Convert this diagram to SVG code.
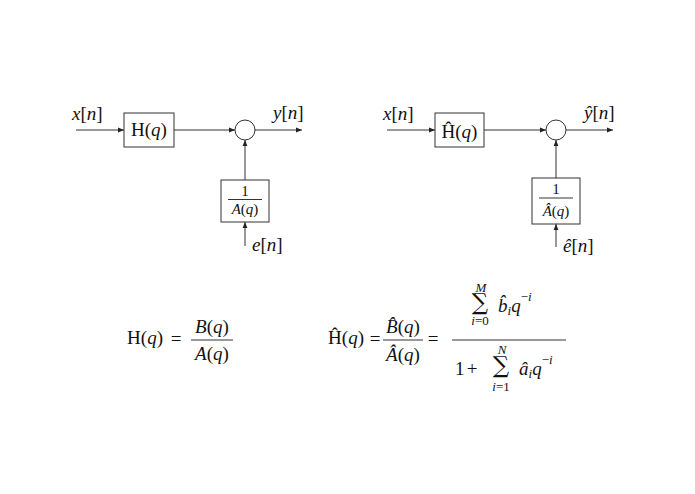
<svg xmlns="http://www.w3.org/2000/svg" width="695" height="494" viewBox="0 0 695 494">
<defs>
<style>
text{font-family:"Liberation Serif","DejaVu Serif",serif;fill:#111;font-size:19px}
.i{font-style:italic}
.s{font-size:15px}
.sm{font-size:13px}
.c{text-anchor:middle}
.e{text-anchor:end}
.sig{font-family:"DejaVu Serif",serif;font-size:23px}
.ln{stroke:#333;stroke-width:1;fill:none}
.box{stroke:#333;stroke-width:1;fill:#fff}
</style>
<marker id="ah" viewBox="0 0 6 6" refX="6" refY="3" markerWidth="6" markerHeight="6" orient="auto" markerUnits="userSpaceOnUse">
<path d="M0,0.6 L6,3 L0,5.4 Z" fill="#222"/>
</marker>
</defs>
<rect width="695" height="494" fill="#fff"/>

<g id="connectors">
<line class="ln" x1="76" y1="130" x2="124" y2="130" marker-end="url(#ah)"/>
<line class="ln" x1="174" y1="130" x2="235" y2="130" marker-end="url(#ah)"/>
<line class="ln" x1="255" y1="130" x2="302" y2="130" marker-end="url(#ah)"/>
<line class="ln" x1="245" y1="180" x2="245" y2="140" marker-end="url(#ah)"/>
<line class="ln" x1="245" y1="246" x2="245" y2="222" marker-end="url(#ah)"/>
<line class="ln" x1="387" y1="130" x2="435" y2="130" marker-end="url(#ah)"/>
<line class="ln" x1="484" y1="130" x2="546" y2="130" marker-end="url(#ah)"/>
<line class="ln" x1="566" y1="130" x2="613" y2="130" marker-end="url(#ah)"/>
<line class="ln" x1="556" y1="178" x2="556" y2="140" marker-end="url(#ah)"/>
<line class="ln" x1="556" y1="247" x2="556" y2="224" marker-end="url(#ah)"/>
</g>

<g id="left-labels">
<text x="72" y="120"><tspan class="i">x</tspan>[<tspan class="i">n</tspan>]</text>
<text x="273" y="119"><tspan class="i">y</tspan>[<tspan class="i">n</tspan>]</text>
<text x="252" y="251"><tspan class="i">e</tspan>[<tspan class="i">n</tspan>]</text>
</g>
<g id="H">
<rect class="box" x="124" y="113" width="50" height="34"/>
<text class="c" x="149" y="136">H(<tspan class="i">q</tspan>)</text>
</g>
<g id="sum1">
<circle class="box" cx="245" cy="130" r="10"/>
</g>
<g id="invA">
<rect class="box" x="221" y="180" width="48" height="42"/>
<text class="c s" x="245" y="196">1</text>
<line class="ln" x1="228" y1="199.5" x2="262" y2="199.5"/>
<text class="c s" x="245" y="214"><tspan class="i">A</tspan>(<tspan class="i">q</tspan>)</text>
</g>

<g id="right-labels">
<text x="383" y="120"><tspan class="i">x</tspan>[<tspan class="i">n</tspan>]</text>
<text x="584" y="119"><tspan class="i">ŷ</tspan>[<tspan class="i">n</tspan>]</text>
<text x="563" y="252"><tspan class="i">ê</tspan>[<tspan class="i">n</tspan>]</text>
</g>
<g id="Hhat">
<rect class="box" x="435" y="113" width="49" height="34"/>
<text class="c" x="459.5" y="138">Ĥ(<tspan class="i">q</tspan>)</text>
</g>
<g id="sum2">
<circle class="box" cx="556" cy="130" r="10"/>
</g>
<g id="invAhat">
<rect class="box" x="532" y="178" width="48" height="46"/>
<text class="c s" x="556" y="194">1</text>
<line class="ln" x1="539" y1="198" x2="573" y2="198"/>
<text class="c s" x="556" y="216"><tspan class="i">Â</tspan>(<tspan class="i">q</tspan>)</text>
</g>

<g id="eq1">
<text class="e" x="163" y="344">H(<tspan class="i">q</tspan>)</text>
<text class="c" x="176" y="345">=</text>
<text class="c" x="212" y="333"><tspan class="i">B</tspan>(<tspan class="i">q</tspan>)</text>
<line class="ln" x1="191" y1="340" x2="233" y2="340"/>
<text class="c" x="212" y="360"><tspan class="i">A</tspan>(<tspan class="i">q</tspan>)</text>
</g>

<g id="eq2">
<text class="e" x="364" y="344">Ĥ(<tspan class="i">q</tspan>)</text>
<text class="c" x="375" y="345">=</text>
<text class="c" x="403" y="333"><tspan class="i">B̂</tspan>(<tspan class="i">q</tspan>)</text>
<line class="ln" x1="383" y1="340" x2="423" y2="340"/>
<text class="c" x="403" y="361"><tspan class="i">Â</tspan>(<tspan class="i">q</tspan>)</text>
<text class="c" x="433" y="345">=</text>
<line class="ln" x1="452" y1="340" x2="566" y2="340"/>
<text class="c sm i" x="481" y="292">M</text>
<text class="c sig" x="480" y="310">∑</text>
<text class="c sm" x="480" y="325"><tspan class="i">i</tspan>=0</text>
<text x="498" y="312"><tspan class="i">b̂</tspan><tspan class="sm i" dy="3">i</tspan><tspan class="i" dy="-3">q</tspan><tspan class="sm" dy="-11">−</tspan><tspan class="sm i">i</tspan></text>
<text x="455" y="375">1</text>
<text class="c" x="472" y="375">+</text>
<text class="c sm i" x="502" y="354">N</text>
<text class="c sig" x="501" y="373">∑</text>
<text class="c sm" x="501" y="391"><tspan class="i">i</tspan>=1</text>
<text x="519" y="375"><tspan class="i">â</tspan><tspan class="sm i" dy="3">i</tspan><tspan class="i" dy="-3">q</tspan><tspan class="sm" dy="-11">−</tspan><tspan class="sm i">i</tspan></text>
</g>
</svg>
